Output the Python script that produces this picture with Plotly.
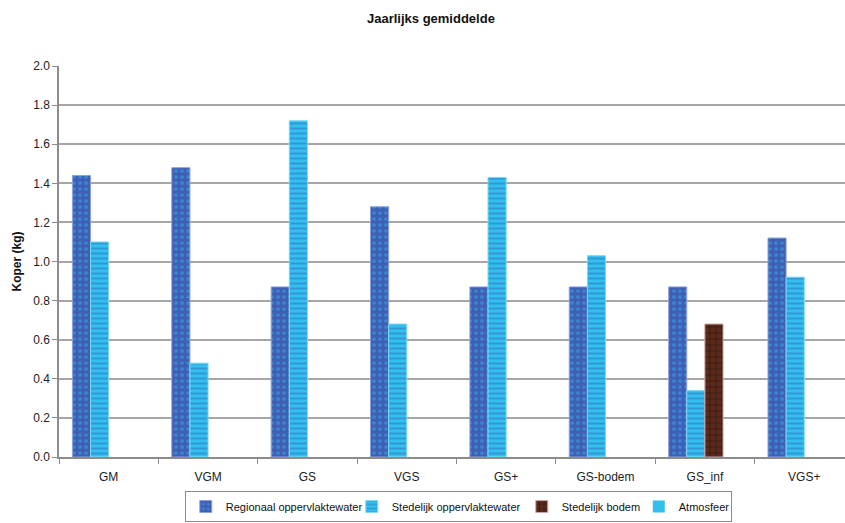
import plotly.graph_objects as go

# Jaarlijks gemiddelde koperbelasting per scenario (kg)
categories = ["GM", "VGM", "GS", "VGS", "GS+", "GS-bodem", "GS_inf", "VGS+"]

regionaal_oppervlaktewater = [1.44, 1.48, 0.87, 1.28, 0.87, 0.87, 0.87, 1.12]
stedelijk_oppervlaktewater = [1.10, 0.48, 1.72, 0.68, 1.43, 1.03, 0.34, 0.92]
stedelijk_bodem = [None, None, None, None, None, None, 0.68, None]
atmosfeer = [None, None, None, None, None, None, None, None]

y_ticks = [0.0, 0.2, 0.4, 0.6, 0.8, 1.0, 1.2, 1.4, 1.6, 1.8, 2.0]

FONT = "Liberation Sans, Arial, sans-serif"

# (name, values, marker, legend entry width)
series = [
    ("Regionaal oppervlaktewater", regionaal_oppervlaktewater,
     dict(color="#3F5FB5", line=dict(color="#8EA2DA", width=1),
          pattern=dict(shape=".", fgcolor="#35AEEA", size=6, solidity=0.3)), 121),
    ("Stedelijk oppervlaktewater", stedelijk_oppervlaktewater,
     dict(color="#33C0EE", line=dict(color="#7FD8F4", width=1),
          pattern=dict(shape="-", fgcolor="#2E6FC0", size=5, solidity=0.4)), 125),
    ("Stedelijk bodem", stedelijk_bodem,
     dict(color="#5B2A1C", line=dict(color="#C9A99F", width=1),
          pattern=dict(shape="+", fgcolor="#000000", size=6, solidity=0.2)), 72),
    ("Atmosfeer", atmosfeer,
     dict(color="#33BEEE", line=dict(width=0)), 47),
]

fig = go.Figure()
for name, values, marker, lw in series:
    fig.add_trace(go.Bar(name=name, x=categories, y=values, marker=marker,
                         legendwidth=lw))

fig.update_layout(
    width=845,
    height=523,
    barmode="group",
    bargap=0.27,
    bargroupgap=0,
    plot_bgcolor="white",
    paper_bgcolor="white",
    font=dict(family=FONT, size=12, color="#222222"),
    margin=dict(l=59, r=0, t=66, b=66),
    title=dict(
        text="<b>Jaarlijks gemiddelde</b>",
        x=0.51, xanchor="center", y=0.965, yanchor="middle",
        font=dict(family=FONT, size=13, color="#111111"),
    ),
    xaxis=dict(
        range=[-0.5, 7.41],
        automargin=False,
        showline=True, linecolor="#8C8C8C", linewidth=1.5,
        ticks="outside", tickson="boundaries", ticklen=5, tickcolor="#8C8C8C",
        showgrid=False,
        ticklabelstandoff=8,
        tickfont=dict(family=FONT, size=12, color="#222222"),
    ),
    yaxis=dict(
        range=[0, 2.0],
        automargin=False,
        tickvals=y_ticks,
        ticktext=[f"{v:.1f}" for v in y_ticks],
        showline=True, linecolor="#8C8C8C", linewidth=1.5,
        ticks="outside", ticklen=5, tickcolor="#8C8C8C",
        showgrid=True, gridcolor="#A6A6A6", gridwidth=1.5,
        zeroline=False,
        tickfont=dict(family=FONT, size=12, color="#222222"),
        title=dict(text="<b>Koper (kg)</b>", standoff=9,
                   font=dict(family=FONT, size=12, color="#111111")),
    ),
    legend=dict(
        orientation="h",
        x=0.508, xanchor="center",
        y=-0.087, yanchor="top",
        bordercolor="#8C8C8C", borderwidth=1,
        font=dict(family=FONT, size=11, color="#111111"),
        itemwidth=30,
        tracegroupgap=0,
    ),
)

fig.write_html("out.html")
